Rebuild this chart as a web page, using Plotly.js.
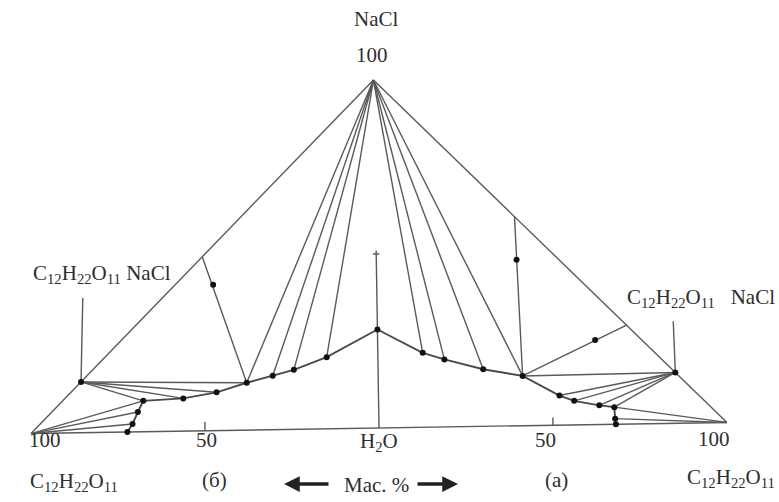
<!DOCTYPE html>
<html><head><meta charset="utf-8">
<script src="https://cdn.plot.ly/plotly-3.0.1.min.js"></script>
<style>html,body{margin:0;padding:0;background:#fff}</style>
</head><body><div id="chart" style="width:779px;height:502px"></div>
<script>
// Compositions in mass %: sucrose (C12H22O11) and NaCl; the rest is H2O.
// Left half (б)
const curveB_sucrose = [0, 14.7, 24.2, 30.3, 37.8, 46.5, 56.1, 67.6, 69.2, 70.8, 72.3];
const curveB_nacl    = [28.3, 20.6, 17.1, 15.5, 13.6, 11.0, 9.4, 8.9, 5.7, 2.3, 0];
// Right half (а)
const curveA_sucrose = [0, 12.9, 19.1, 30.2, 41.5, 52.0, 56.2, 63.4, 67.7, 67.9, 68.1];
const curveA_nacl    = [28.3, 21.4, 19.4, 16.4, 14.3, 8.5, 6.9, 5.5, 4.9, 1.6, 0];
// Compound C12H22O11·NaCl
const compound_sucrose = 85.4;
const compound_nacl = 14.6;
// Wet residues and the side points their rays reach
const residueB_sucrose = [47.0];
const residueB_nacl    = [41.9];
const rayB_end_sucrose = [50.0];
const rayB_end_nacl    = [50.0];
const residueA_sucrose = [40.3, 62.5];
const residueA_nacl    = [47.7, 24.3];
const rayA_end_sucrose = [39.9, 71.6];
const rayA_end_nacl    = [60.1, 28.4];
// tie-lines (indices into curve arrays)
const apexTiesB = [1, 2, 3, 4];
const compTiesB = [4, 5, 6, 7];
const sucroseTiesB = [7, 8, 9];
const apexTiesA = [1, 2, 3, 4];
const compTiesA = [4, 5, 6, 7, 8];
const sucroseTiesA = [8, 9];
const invariantIndex = 4;
const waterLineTop = 51;
const waterTick = 50;
const baseTicks = [50];

// geometry: each half is a right isosceles triangle, scan slightly rotated
const TH = 0.016, CO = Math.cos(TH), SI = Math.sin(TH);
function P(side, s, n) {
  const bx = side * s / 100, by = n / 100;
  return [bx * CO - by * SI, bx * SI + by * CO];
}
const thin = {x: [], y: []};
function seg(a, b) {
  thin.x.push(a[0], b[0], null); thin.y.push(a[1], b[1], null);
}
const apex = P(1, 0, 100), water = P(1, 0, 0);
const cornerB = P(-1, 100, 0), cornerA = P(1, 100, 0);
const compB = P(-1, compound_sucrose, compound_nacl);
const compA = P(1, compound_sucrose, compound_nacl);
// triangle outline
seg(cornerB, apex); seg(apex, cornerA); seg(cornerB, cornerA);
// water vertical line with tick
seg(water, P(1, 0, waterLineTop));
seg(P(-1, 0.9, waterTick), P(1, 0.9, waterTick));
// base ticks
baseTicks.forEach(t => { seg(P(-1, t, 0), P(-1, t, 2.6)); seg(P(1, t, 0), P(1, t, 2.2)); });
// tie lines
const ptB = i => P(-1, curveB_sucrose[i], curveB_nacl[i]);
const ptA = i => P(1, curveA_sucrose[i], curveA_nacl[i]);
apexTiesB.forEach(i => seg(apex, ptB(i)));
compTiesB.forEach(i => seg(compB, ptB(i)));
sucroseTiesB.forEach(i => seg(cornerB, ptB(i)));
apexTiesA.forEach(i => seg(apex, ptA(i)));
compTiesA.forEach(i => seg(compA, ptA(i)));
sucroseTiesA.forEach(i => seg(cornerA, ptA(i)));
// residue rays
rayB_end_sucrose.forEach((s, k) => seg(ptB(invariantIndex), P(-1, s, rayB_end_nacl[k])));
rayA_end_sucrose.forEach((s, k) => seg(ptA(invariantIndex), P(1, s, rayA_end_nacl[k])));
// label stubs above compound points
seg(compB, [compB[0] + 0.005, compB[1] + 0.241]);
seg(compA, [compA[0] - 0.006, compA[1] + 0.147]);

const curveX = [], curveY = [];
for (let i = curveB_sucrose.length - 1; i >= 0; i--) { const p = ptB(i); curveX.push(p[0]); curveY.push(p[1]); }
for (let i = 1; i < curveA_sucrose.length; i++) { const p = ptA(i); curveX.push(p[0]); curveY.push(p[1]); }

const dots = {x: curveX.slice(), y: curveY.slice()};
[compB, compA].forEach(p => { dots.x.push(p[0]); dots.y.push(p[1]); });
residueB_sucrose.forEach((s, k) => { const p = P(-1, s, residueB_nacl[k]); dots.x.push(p[0]); dots.y.push(p[1]); });
residueA_sucrose.forEach((s, k) => { const p = P(1, s, residueA_nacl[k]); dots.x.push(p[0]); dots.y.push(p[1]); });

const traces = [
  {x: thin.x, y: thin.y, mode: 'lines', line: {color: '#5a5a5a', width: 1.4}, hoverinfo: 'skip'},
  {x: curveX, y: curveY, mode: 'lines', line: {color: '#4a4a4a', width: 1.9}, hoverinfo: 'skip'},
  {x: dots.x, y: dots.y, mode: 'markers', marker: {color: '#111', size: 6}, hoverinfo: 'skip'}
];

const W = 779, H = 502;
const F = {family: 'Liberation Serif, Times New Roman, serif', size: 21, color: '#2e2e2e'};
function T(text, px, py, anchor) {
  return {text: text, x: px / W, y: 1 - py / H, xref: 'paper', yref: 'paper',
          xanchor: anchor || 'center', yanchor: 'middle', showarrow: false, font: F};
}
const sucroseTxt = 'C<sub>12</sub>H<sub>22</sub>O<sub>11</sub>';
const annotations = [
  T('NaCl', 376, 19), T('100', 372, 55),
  T(sucroseTxt + ' NaCl', 31, 274, 'left'),
  T(sucroseTxt + '\u00a0\u00a0\u00a0NaCl', 625, 298, 'left'),
  T('100', 45, 440), T('50', 207, 440), T('H<sub>2</sub>O', 379, 442), T('50', 545, 440), T('100', 714, 439),
  T(sucroseTxt, 28, 482, 'left'), T('(б)', 215, 480), T('Мас. %', 376, 485), T('(а)', 556, 480),
  T(sucroseTxt, 777, 478, 'right'),
  {x: 284 / W, y: 1 - 484 / H, xref: 'paper', yref: 'paper', ax: 46, ay: 0, text: '', showarrow: true,
   arrowhead: 2, arrowsize: 0.9, arrowwidth: 3.5, arrowcolor: '#222'},
  {x: 458 / W, y: 1 - 484 / H, xref: 'paper', yref: 'paper', ax: -42, ay: 0, text: '', showarrow: true,
   arrowhead: 2, arrowsize: 0.9, arrowwidth: 3.5, arrowcolor: '#222'}
];

const layout = {
  width: W, height: H, margin: {l: 0, r: 0, t: 0, b: 0},
  paper_bgcolor: '#fff', plot_bgcolor: '#fff', showlegend: false,
  xaxis: {range: [-379 / 348, (W - 379) / 348], visible: false, fixedrange: true},
  yaxis: {range: [-(H - 428) / 348, 428 / 348], visible: false, fixedrange: true},
  annotations: annotations
};
Plotly.newPlot('chart', traces, layout, {displayModeBar: false, staticPlot: true});
</script></body></html>
